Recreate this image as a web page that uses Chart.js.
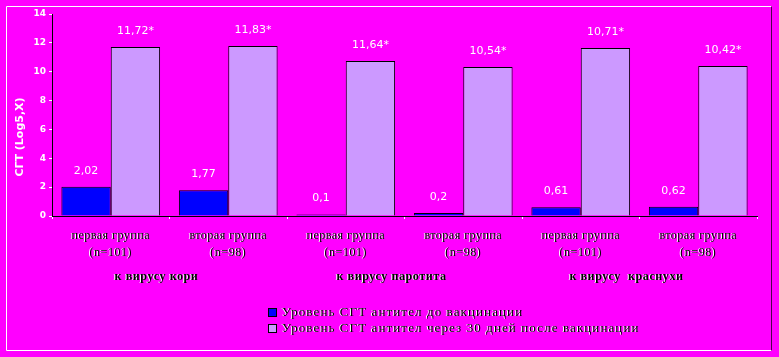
<!DOCTYPE html>
<html>
<head>
<meta charset="utf-8">
<script src="https://cdn.jsdelivr.net/npm/chart.js@4.4.1/dist/chart.umd.min.js"></script>
<style>
html,body{margin:0;padding:0;background:#FF00FF;}
#wrap{width:779px;height:357px;}
</style>
</head>
<body>
<div id="wrap"><canvas id="c" width="779" height="357"></canvas></div>
<script>
// ---- data ----
const categories = [
  ['первая группа', '(n=101)'],
  ['вторая группа', '(n=98)'],
  ['первая группа', '(n=101)'],
  ['вторая группа', '(n=98)'],
  ['первая группа', '(n=101)'],
  ['вторая группа', '(n=98)']
];
const groupLabels = ['к вирусу кори', 'к вирусу паротита', 'к вирусу  краснухи'];
const seriesNames = ['Уровень СГТ антител до вакцинации', 'Уровень СГТ антител через 30 дней после вакцинации'];
const beforeValues = [2.02, 1.78, 0.1, 0.2, 0.6, 0.64];
const afterValues = [11.72, 11.78, 10.74, 10.33, 11.64, 10.40];
const beforeLabels = ['2,02', '1,77', '0,1', '0,2', '0,61', '0,62'];
const afterLabels = ['11,72*', '11,83*', '11,64*', '10,54*', '10,71*', '10,42*'];
const yAxisTitle = 'СГТ (Log5,X)';
const yMin = 0, yMax = 14, yStep = 2;

const BG = '#FF00FF';
const BLUE = '#0000FF';
const LAV = '#CC99FF';

function emboss(ctx, text, x, y) {
  ctx.fillStyle = '#ffffff';
  ctx.fillText(text, x - 1, y);
  ctx.fillStyle = '#000000';
  ctx.fillText(text, x, y);
}

const decor = {
  id: 'decor',
  beforeDraw(chart) {
    const ctx = chart.ctx;
    ctx.save();
    ctx.fillStyle = BG;
    ctx.fillRect(0, 0, chart.width, chart.height);
    ctx.restore();
  },
  afterDraw(chart) {
    const ctx = chart.ctx;
    const xs = chart.scales.x;
    ctx.save();
    // frame
    ctx.lineWidth = 1;
    ctx.strokeStyle = '#ffffff';
    ctx.beginPath();
    ctx.moveTo(771.5, 6.5); ctx.lineTo(6.5, 6.5); ctx.lineTo(6.5, 350.5); ctx.lineTo(771.5, 350.5);
    ctx.stroke();
    ctx.strokeStyle = '#500050';
    ctx.beginPath();
    ctx.moveTo(771.5, 6.5); ctx.lineTo(771.5, 350.5);
    ctx.stroke();

    // y title
    ctx.save();
    ctx.translate(20, 137);
    ctx.rotate(-Math.PI / 2);
    ctx.font = 'bold 11px "DejaVu Sans"';
    ctx.fillStyle = '#ffffff';
    ctx.textAlign = 'center';
    ctx.textBaseline = 'middle';
    ctx.fillText(yAxisTitle, 0, 0);
    ctx.restore();

    // value labels
    ctx.font = '11px "DejaVu Sans"';
    ctx.textAlign = 'center';
    ctx.textBaseline = 'middle';
    ctx.fillStyle = '#ffffff';
    const lbls = [beforeLabels, afterLabels];
    chart.data.datasets.forEach((ds, di) => {
      chart.getDatasetMeta(di).data.forEach((bar, i) => {
        ctx.fillText(lbls[di][i], bar.x, bar.y - 16);
      });
    });

    // category labels
    ctx.font = '12px "Liberation Serif"';
    ctx.letterSpacing = '0.5px';
    ctx.textAlign = 'center';
    categories.forEach((c, i) => {
      const x = xs.getPixelForValue(i);
      emboss(ctx, c[0], x, 236);
      emboss(ctx, c[1], x, 253);
    });

    // group labels
    ctx.font = 'bold 12px "Liberation Serif"';
    ctx.letterSpacing = '0.6px';
    groupLabels.forEach((g, gi) => {
      const x = (xs.getPixelForValue(gi * 2) + xs.getPixelForValue(gi * 2 + 1)) / 2 - 13;
      emboss(ctx, g, x, 277);
    });

    // legend
    ctx.font = '13px "Liberation Serif"';
    ctx.letterSpacing = '1.1px';
    ctx.textAlign = 'left';
    const cols = [BLUE, LAV];
    seriesNames.forEach((s, i) => {
      const y = 313 + i * 16;
      ctx.fillStyle = cols[i];
      ctx.fillRect(268, y - 4, 8, 8);
      ctx.strokeStyle = '#000';
      ctx.lineWidth = 1;
      ctx.strokeRect(268.5, y - 4.5, 8, 8);
      emboss(ctx, s, 282, y);
    });
    ctx.letterSpacing = '0px';
    ctx.restore();
  }
};

new Chart(document.getElementById('c'), {
  type: 'bar',
  data: {
    labels: categories.map(c => c.join(' ')),
    datasets: [
      { label: seriesNames[0], data: beforeValues, backgroundColor: BLUE, borderColor: '#000', borderWidth: 1, categoryPercentage: 0.84, barPercentage: 1 },
      { label: seriesNames[1], data: afterValues, backgroundColor: LAV, borderColor: '#000', borderWidth: 1, categoryPercentage: 0.84, barPercentage: 1 }
    ]
  },
  options: {
    responsive: false,
    animation: false,
    layout: { padding: { left: 0, right: 22, top: 14, bottom: 0 } },
    plugins: { legend: { display: false }, tooltip: { enabled: false } },
    scales: {
      x: {
        offset: true,
        grid: { display: true, drawOnChartArea: false, tickLength: 3, color: '#ffffff', offset: true },
        border: { display: true, color: '#000', width: 1 },
        ticks: { display: false },
        afterFit: s => { s.height = 141; }
      },
      y: {
        min: yMin, max: yMax,
        ticks: { stepSize: yStep, color: '#ffffff', font: { family: 'DejaVu Sans', size: 9, weight: 'bold' }, padding: 3 },
        grid: { display: true, drawOnChartArea: false, tickLength: 3, color: '#ffffff' },
        border: { display: true, color: '#000', width: 1 },
        afterFit: s => { s.width = 52; }
      }
    }
  },
  plugins: [decor]
});
</script>
</body>
</html>
